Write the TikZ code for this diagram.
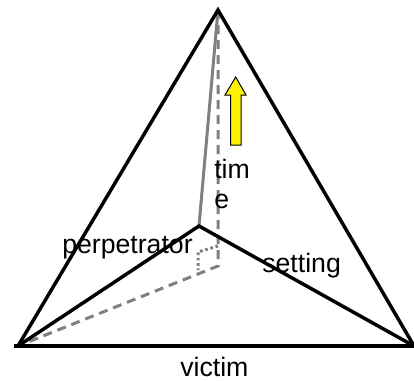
\documentclass[tikz,border=0pt]{standalone}
\usepackage{fontspec}
\setmainfont{Liberation Sans}
\tikzset{
  edgeline/.style={black,line width=2.6pt},
  baseline/.style={black,line width=3pt,shorten <=-3pt},
  greysolid/.style={gray,line width=2.25pt},
  greydash/.style={gray,line width=2.25pt,dash pattern=on 6.75pt off 4.5pt},
  greydot/.style={gray,line width=2.25pt,dash pattern=on 2pt off 2pt},
  lab/.style={font=\fontsize{20}{24}\selectfont,inner sep=0pt,anchor=base west,text=black}
}
\begin{document}
\begin{tikzpicture}[x=0.75pt,y=-0.75pt]
\useasboundingbox (0,0) rectangle (414,380);
\coordinate (apex) at (218,10);
\coordinate (left) at (18,346);
\coordinate (right) at (414,346);
\coordinate (front) at (199,226);
\coordinate (back) at (218,266);
\coordinate (dota) at (218,246);
\coordinate (dotb) at (198,252);
\coordinate (dotc) at (198,270);
\draw[greydash] (apex) -- (back) -- (left);
\draw[greydot] (dota) -- (dotb) -- (dotc);
\draw[greysolid] (apex) -- (front);
\draw[edgeline,line join=miter] (left) -- (apex) -- (right);
\draw[edgeline] (left) -- (front) -- (right);
\draw[baseline] (left) -- (right);
\draw[black,line width=0.75pt,fill=yellow,line join=miter]
  (230.7,145) -- (230.7,95) -- (225,95) -- (235.7,77) -- (246,95) -- (241,95) -- (241,145) -- cycle;
\node[lab] (time) at (214,178) {tim};
\node[lab] (timee) at (214,208) {e};
\node[lab] (perp) at (62,253) {perpetrator};
\node[lab] (setting) at (262,272) {setting};
\node[lab] (victim) at (180,376) {victim};
\end{tikzpicture}
\end{document}
